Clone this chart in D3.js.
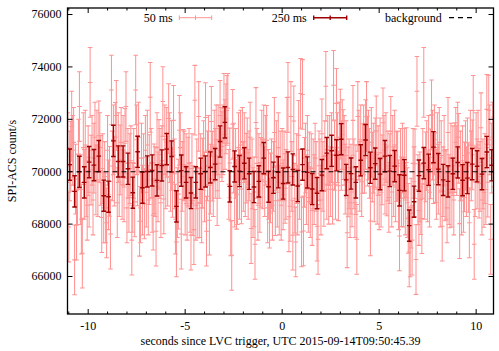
<!DOCTYPE html>
<html>
<head>
<meta charset="utf-8">
<script src="https://cdn.jsdelivr.net/npm/d3@7/dist/d3.min.js"></script>
<style>
  body { margin: 0; background: #fff; }
  svg text { font-family: "Liberation Serif", "DejaVu Serif", serif; font-size: 12px; fill: #000; }
</style>
</head>
<body>
<svg id="chart" width="499" height="351"></svg>
<script>
// Constants
const width = 499;
const height = 351;
const plot = { left: 67.5, right: 493.5, top: 8, bottom: 314 };

// Binning of the light curves (seconds since trigger)
const tStart = -11.05;
const dt50 = 0.05;
const dt250 = 0.25;
const err50 = 1330;   // count/s, 1 sigma
const err250 = 595;
const backgroundLevel = 69980;

// 250 ms light curve (count/s)
const rates250 = [
  70252, 69231, 69979, 69573, 70347, 70233, 70576, 69066, 69028, 71159,
  70373, 70373, 70094, 69180, 70741, 69370, 69992, 70030, 69650, 70220,
  70842, 70563, 68659, 70024, 69573, 69167, 69573, 69903, 69992, 70144,
  70271, 71134, 71864, 69421, 70182, 70005, 70303, 69903, 69396, 69611,
  70500, 69408, 69751, 69960, 69529, 70144, 70068, 69434, 70252, 69954,
  69320, 69161, 69852, 70690, 70779, 70607, 71223, 69668, 69910, 69573,
  70417, 71191, 70132, 70290, 69890, 70576, 70005, 70195, 69269, 69846,
  67924, 68837, 69833, 70309, 70056, 70918, 70081, 69668, 69611, 69903,
  70335, 69656, 69738, 70271, 70189, 69890, 70734, 70227
];

// 50 ms light curve (count/s), five per 250 ms bin
const rates50 = [
  70900, 67870, 70200, 70570, 71720,  70800, 71100, 66615, 69700, 67940,
  69300, 70655, 72470, 69300, 68170,  66870, 70900, 69500, 71000, 69595,
  68700, 70400, 69200, 73390, 70045,  70800, 68900, 70500, 71300, 69665,
  71000, 69600, 71350, 70900, 70030,  68230, 70100, 68600, 69800, 68600,
  68030, 70800, 69100, 69610, 67600,  73100, 70200, 71200, 70000, 71295,
  72130, 68800, 70900, 69600, 70435,  71100, 69500, 70800, 69400, 71065,
  72470, 68600, 70300, 69000, 70100,  70400, 67370, 69000, 70300, 68830,
  73100, 71200, 70015, 71300, 68090,  68600, 70500, 68900, 70100, 68750,
  70800, 69200, 71000, 68900, 70060,  72820, 70300, 69000, 68320, 69710,
  69600, 67710, 70900, 69400, 70640,  70300, 68800, 70400, 72660, 68940,
  71200, 69900, 71100, 70000, 72010,  70900, 69800, 70600, 69575, 71940,
  69900, 68170, 67300, 68800, 69125,  71560, 70900, 67600, 69800, 70260,
  70200, 68900, 70100, 68700, 69965,  70300, 69000, 67560, 70100, 68875,
  67770, 72710, 68700, 69900, 68785,  72090, 68800, 70100, 68600, 69925,
  70600, 69400, 72050, 67710, 70200,  70800, 68130, 69700, 71900, 70190,
  69600, 71000, 70300, 71200, 69255,  71200, 70300, 72130, 71100, 70940,
  71200, 72400, 71400, 72000, 72320,  72400, 69500, 70315, 68100, 66790,
  71790, 70500, 69200, 70300, 69120,  69300, 70900, 69500, 71000, 69325,
  71100, 69800, 70900, 69600, 70115,  70700, 69500, 70205, 71300, 67810,
  69900, 68800, 69210, 67210, 71860,  70300, 68700, 70100, 69000, 69955,
  71000, 69900, 71200, 69600, 70800,  71180, 68600, 69500, 68400, 69360,
  69900, 68700, 69800, 71480, 68875,  70600, 69200, 70900, 68900, 70200,
  68700, 70300, 69100, 70200, 69345,  69500, 71480, 72820, 68260, 68660,
  72090, 69800, 67560, 71920, 68970,  67300, 70100, 68900, 71370, 69500,
  72970, 67680, 72930, 67720, 69960,  70500, 69300, 70800, 69000, 70170,
  68800, 70100, 68500, 69900, 69300,  70500, 69800, 67900, 67400, 70205,
  69900, 68900, 71430, 69800, 69230,  70600, 73240, 69500, 70800, 69310,
  70800, 69600, 70900, 69315, 73280,  70600, 69500, 72590, 70900, 69445,
  71300, 71800, 70600, 71400, 71015,  70800, 69700, 70600, 67650, 69590,
  69900, 68800, 69700, 69210, 71940,  69900, 68800, 69675, 67400, 72090,
  71000, 69800, 71200, 69600, 70485,  71200, 70500, 71400, 72090, 70765,
  71000, 70300, 68100, 71100, 70160,  70500, 69400, 70700, 71540, 69310,
  70400, 69100, 70700, 69200, 70050,  71850, 70800, 69700, 70900, 69630,
  70200, 69000, 70100, 71520, 69205,  70800, 69600, 71000, 69400, 70175,
  70200, 69100, 67530, 70300, 69215,  70500, 69200, 70300, 68900, 70330,
  68800, 68200, 66920, 67300, 68400,  67370, 70300, 69600, 70285, 66630,
  73050, 69300, 68500, 69400, 68915,  68190, 70300, 73390, 69500, 70165,
  70600, 69400, 70800, 69200, 70280,  72150, 71000, 70100, 71200, 70140,
  69500, 70900, 69700, 71100, 69205,  70600, 67900, 69600, 70800, 69440,
  69500, 68600, 71480, 69300, 69175,  70500, 69200, 70400, 68900, 70515,
  71100, 70400, 71300, 70875, 68000,  70200, 68900, 70400, 69000, 69780,
  70600, 69600, 70700, 69760, 68030,  71000, 70200, 70625, 72320, 67210,
  69600, 70900, 69900, 71000, 69545,  69800, 71660, 68900, 69900, 69190,
  70100, 69300, 72360, 69580, 72330,  71200, 67400, 70500, 71300, 70735
];

// Axes
const xDomain = [-11.04, 10.92];
const yDomain = [64550, 76230];
const xMajorTicks = [-10, -5, 0, 5, 10];
const xMinorTicks = [-11, -9, -8, -7, -6, -4, -3, -2, -1, 1, 2, 3, 4, 6, 7, 8, 9];
const yTicks = [66000, 68000, 70000, 72000, 74000, 76000];
const xLabel = "seconds since LVC trigger, UTC 2015-09-14T09:50:45.39";
const yLabel = "SPI-ACS count/s";
const legendLabels = ["50 ms", "250 ms", "background"];

const pink = "#ff9494";
const darkRed = "#a00000";

const svg = d3.select("#chart");

const xScale = d3.scaleLinear().domain(xDomain).range([plot.left, plot.right]);
const yScale = d3.scaleLinear().domain(yDomain).range([plot.bottom, plot.top]);

svg.append("clipPath").attr("id", "clip")
  .append("rect")
  .attr("x", plot.left).attr("y", plot.top)
  .attr("width", plot.right - plot.left).attr("height", plot.bottom - plot.top);

const data = svg.append("g").attr("clip-path", "url(#clip)");

// error bars with caps at both ends and a tick at the value
function errorBarPath(cx, v, err, cap) {
  const lo = yScale(v - err), hi = yScale(v + err), c = yScale(v);
  return `M${cx},${lo}V${hi}` +
    `M${cx - cap},${lo}H${cx + cap}` +
    `M${cx - cap},${hi}H${cx + cap}` +
    `M${cx - cap},${c}H${cx + cap}`;
}

function drawSeries(rates, dt, err, color, lw) {
  data.append("g")
    .selectAll("path")
    .data(rates)
    .enter()
    .append("path")
    .attr("d", (v, i) => errorBarPath(xScale(tStart + (i + 0.5) * dt), v, err, 2.3))
    .attr("fill", "none")
    .attr("stroke", color)
    .attr("stroke-width", lw);
}

drawSeries(rates50, dt50, err50, pink, 1.05);
drawSeries(rates250, dt250, err250, darkRed, 1.4);

data.append("line")
  .attr("x1", plot.left).attr("x2", plot.right)
  .attr("y1", yScale(backgroundLevel)).attr("y2", yScale(backgroundLevel))
  .attr("stroke", "#000")
  .attr("stroke-width", 1.2)
  .attr("stroke-dasharray", "5,4");

// axes (ticks pointing inwards, mirrored); plain hyphen for negatives
const plainNumber = d => String(d);

function styleAxis(g) {
  g.select(".domain").remove();
  g.selectAll(".tick line").attr("stroke", "#000").attr("stroke-width", 1);
  g.selectAll(".tick text").attr("fill", "#000");
  g.attr("font-family", null).attr("font-size", null);
}

svg.append("g")
  .attr("transform", `translate(0,${plot.bottom})`)
  .call(d3.axisBottom(xScale).tickValues(xMajorTicks).tickSize(-5).tickPadding(7).tickFormat(plainNumber))
  .call(styleAxis);
svg.append("g")
  .attr("transform", `translate(0,${plot.bottom})`)
  .call(d3.axisBottom(xScale).tickValues(xMinorTicks).tickSize(-2.5).tickFormat(""))
  .call(styleAxis);
svg.append("g")
  .attr("transform", `translate(0,${plot.top})`)
  .call(d3.axisTop(xScale).tickValues(xMajorTicks).tickSize(-5).tickFormat(""))
  .call(styleAxis);
svg.append("g")
  .attr("transform", `translate(0,${plot.top})`)
  .call(d3.axisTop(xScale).tickValues(xMinorTicks).tickSize(-2.5).tickFormat(""))
  .call(styleAxis);
svg.append("g")
  .attr("transform", `translate(${plot.left},0)`)
  .call(d3.axisLeft(yScale).tickValues(yTicks).tickSize(-5).tickPadding(6).tickFormat(plainNumber))
  .call(styleAxis);
svg.append("g")
  .attr("transform", `translate(${plot.right},0)`)
  .call(d3.axisRight(yScale).tickValues(yTicks).tickSize(-5).tickFormat(""))
  .call(styleAxis);

// border
svg.append("rect")
  .attr("x", plot.left).attr("y", plot.top)
  .attr("width", plot.right - plot.left).attr("height", plot.bottom - plot.top)
  .attr("fill", "none").attr("stroke", "#000").attr("stroke-width", 1.3);

// axis titles
svg.append("text")
  .attr("x", (plot.left + plot.right) / 2)
  .attr("y", 345)
  .attr("text-anchor", "middle")
  .text(xLabel);
svg.append("text")
  .attr("transform", `translate(16,${(plot.top + plot.bottom) / 2}) rotate(-90)`)
  .attr("text-anchor", "middle")
  .text(yLabel);

// legend
const legendY = 17.7;
const legendItems = [
  { label: legendLabels[0], textEnd: 172.7, x0: 179.3, x1: 211.7, color: pink, kind: "bar", lw: 1 },
  { label: legendLabels[1], textEnd: 306.7, x0: 313.7, x1: 346.7, color: darkRed, kind: "bar", lw: 1.4 },
  { label: legendLabels[2], textEnd: 441.7, x0: 449, x1: 476, color: "#000", kind: "dash", lw: 1.2 }
];
const legend = svg.append("g");
legendItems.forEach(d => {
  legend.append("text")
    .attr("x", d.textEnd).attr("y", legendY + 4)
    .attr("text-anchor", "end")
    .text(d.label);
  if (d.kind === "bar") {
    const xm = (d.x0 + d.x1) / 2;
    legend.append("path")
      .attr("d", `M${d.x0},${legendY}H${d.x1}M${d.x0},${legendY - 2.3}V${legendY + 2.3}` +
        `M${xm},${legendY - 2.3}V${legendY + 2.3}M${d.x1},${legendY - 2.3}V${legendY + 2.3}`)
      .attr("fill", "none").attr("stroke", d.color).attr("stroke-width", d.lw);
  } else {
    legend.append("line")
      .attr("x1", d.x0).attr("x2", d.x1).attr("y1", legendY).attr("y2", legendY)
      .attr("stroke", d.color).attr("stroke-width", d.lw).attr("stroke-dasharray", "5,4");
  }
});
</script>
</body>
</html>
